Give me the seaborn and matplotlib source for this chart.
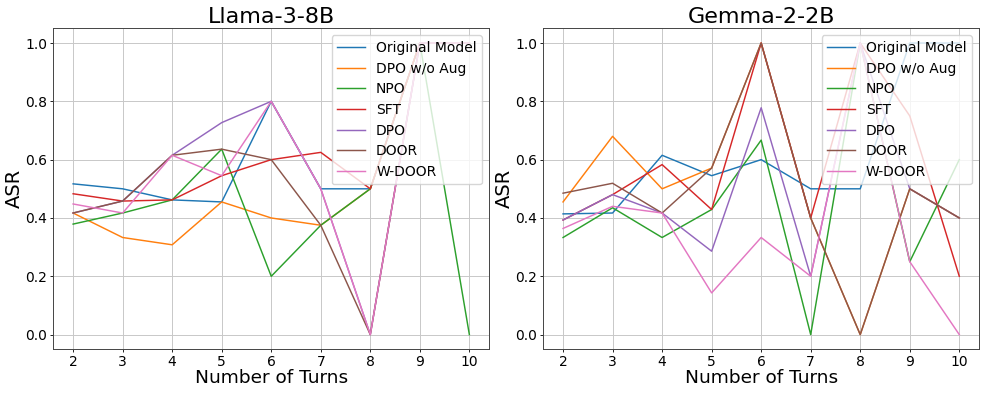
import pandas as pd
import matplotlib
matplotlib.use("Agg")
import matplotlib.pyplot as plt
import seaborn as sns

turns = [2, 3, 4, 5, 6, 7, 8, 9, 10]
methods = ["Original Model", "DPO w/o Aug", "NPO", "SFT", "DPO", "DOOR", "W-DOOR"]

# ASR per number of turns
llama = {
    "Original Model": [0.517, 0.500, 0.462, 0.455, 0.800, 0.500, 0.500, 1.0, 1.0],
    "DPO w/o Aug":    [0.417, 0.333, 0.308, 0.455, 0.400, 0.375, 0.500, 1.0, 1.0],
    "NPO":            [0.379, 0.417, 0.462, 0.636, 0.200, 0.375, 0.500, 1.0, 0.0],
    "SFT":            [0.483, 0.458, 0.462, 0.545, 0.600, 0.625, 0.500, 1.0, 1.0],
    "DPO":            [0.417, 0.458, 0.615, 0.727, 0.800, 0.500, 0.000, 1.0, 1.0],
    "DOOR":           [0.417, 0.458, 0.615, 0.636, 0.600, 0.375, 0.000, 1.0, 1.0],
    "W-DOOR":         [0.448, 0.417, 0.615, 0.545, 0.800, 0.500, 0.000, 1.0, 1.0],
}

gemma = {
    "Original Model": [0.414, 0.417, 0.615, 0.545, 0.600, 0.500, 0.500, 1.00, 1.0],
    "DPO w/o Aug":    [0.455, 0.680, 0.500, 0.571, 1.000, 0.400, 0.000, 0.50, 0.4],
    "NPO":            [0.333, 0.435, 0.333, 0.429, 0.667, 0.000, 1.000, 0.25, 0.6],
    "SFT":            [0.393, 0.480, 0.583, 0.429, 1.000, 0.400, 1.000, 0.75, 0.2],
    "DPO":            [0.393, 0.480, 0.417, 0.286, 0.778, 0.200, 1.000, 0.50, 0.4],
    "DOOR":           [0.485, 0.519, 0.417, 0.571, 1.000, 0.400, 0.000, 0.50, 0.4],
    "W-DOOR":         [0.364, 0.440, 0.417, 0.143, 0.333, 0.200, 1.000, 0.25, 0.0],
}


def to_long(data):
    rows = []
    for m in methods:
        for t, v in zip(turns, data[m]):
            rows.append({"turns": t, "ASR": v, "method": m})
    return pd.DataFrame(rows)


def draw(ax, data, title):
    df = to_long(data)
    sns.lineplot(data=df, x="turns", y="ASR", hue="method", hue_order=methods,
                 palette="tab10", linewidth=1.05, ax=ax)
    ax.set_title(title, fontsize=16, pad=4)
    ax.set_xlabel("Number of Turns", fontsize=13.3, labelpad=0)
    ax.set_ylabel("ASR", fontsize=14, labelpad=1)
    ax.set_xticks(turns)
    ax.tick_params(labelsize=10, length=2.5, pad=2, width=0.6)
    ax.grid(True, color="#c8c8c8", linewidth=0.7)
    for s in ax.spines.values():
        s.set_linewidth(0.7)
        s.set_color("#444444")
    ax.legend(loc="upper right", fontsize=10, labelspacing=0.48)


fig, axes = plt.subplots(1, 2, figsize=(9.87, 3.95), dpi=100)
plt.subplots_adjust(left=0.054, right=0.992, bottom=0.116, top=0.928, wspace=0.124)

draw(axes[0], llama, "Llama-3-8B")
draw(axes[1], gemma, "Gemma-2-2B")

plt.savefig("out.png", dpi=100)
